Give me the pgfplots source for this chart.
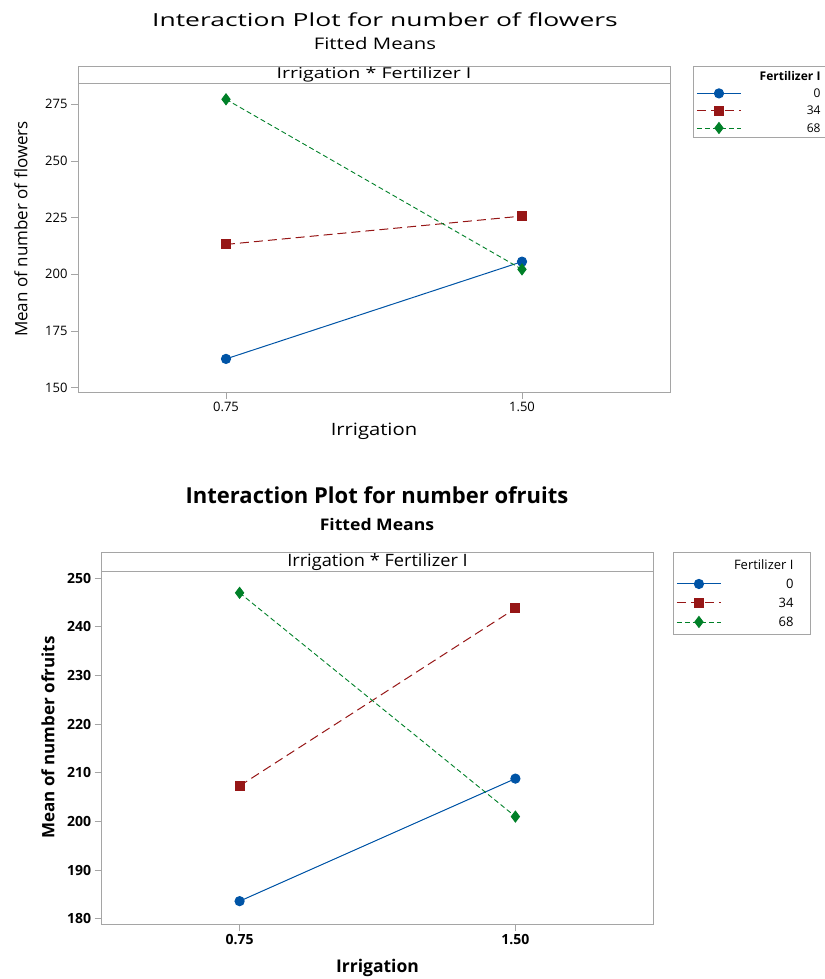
\documentclass[border=0pt]{standalone}
\usepackage{pgfplots}
\pgfplotsset{compat=1.18}
\usepackage{fontspec}
\setmainfont{Open Sans}
\definecolor{mblue}{RGB}{0,84,166}
\definecolor{mred}{RGB}{150,22,22}
\definecolor{mgreen}{RGB}{0,128,40}
\definecolor{axgray}{RGB}{165,165,165}
\newcommand{\fs}[1]{\fontsize{#1}{#1}\selectfont}
\newcommand{\legA}[1]{\makebox[84pt][l]{\makebox[77pt][r]{#1}}}
\newcommand{\legB}[1]{\makebox[82pt][l]{\makebox[70pt][r]{#1}}}
\begin{document}
\begin{tikzpicture}
\useasboundingbox (0pt,0pt) rectangle (824pt,-979pt);
\pgfplotsset{
  mybase/.style={
    scale only axis,
    xmin=0.375, xmax=1.875,
    xtick={0.75,1.5},
    xticklabels={0.75,1.50},
    axis line style={axgray, line width=0.9pt},
    tick style={axgray, line width=0.9pt},
    tick align=outside,
    major tick length=7pt,
    xtick pos=bottom, ytick pos=left,
    /pgf/number format/assume math mode=true,
    clip=false,
    legend cell align=left,
    legend image code/.code={\draw[mark repeat=2,mark phase=2] plot coordinates {(0pt,0pt) (22pt,0pt) (44pt,0pt)};},
  },
  sblue/.style={mblue, line width=1pt, mark=*, mark size=4.6pt, mark options={solid}},
  sred/.style={mred, line width=1pt, dash pattern=on 9pt off 5pt, mark=square*, mark size=4.5pt, mark options={solid}},
  sgreen/.style={mgreen, line width=0.9pt, dash pattern=on 5pt off 3pt, mark=diamond*, mark size=5.5pt, mark options={solid}},
}
% ---------------- top plot ----------------
\node[font=\fs{18}] at (385pt,-20pt) {\scalebox{1.47}[1]{Interaction Plot for number of flowers}};
\node[font=\fs{16}] at (375pt,-44pt) {\scalebox{1.27}[1]{Fitted Means}};
\begin{axis}[mybase,
  at={(78pt,-392pt)}, anchor=south west,
  width=592pt, height=326pt,
  ymin=148.1, ymax=291.9,
  ytick={150,175,200,225,250,275},
  ticklabel style={font=\fs{13}},
  xlabel={\scalebox{1.19}[1]{Irrigation}}, ylabel={Mean of number of flowers},
  xlabel style={font=\fs{17}, at={(axis description cs:0.5,-0.1196)}, anchor=center},
  ylabel style={font=\fs{17}, at={(axis description cs:-0.0963,0.5)}, anchor=center},
  legend style={at={(1.0389,1.0)}, anchor=north west, draw=axgray, line width=0.9pt,
    inner xsep=3pt, inner ysep=1pt, row sep=0pt, font=\fs{12},
    nodes={inner ysep=0pt, inner xsep=2pt, text height=12.8pt, text depth=4.5pt}},
]
\draw[axgray, line width=0.9pt] (axis cs:0.375,284.4) -- (axis cs:1.875,284.4);
\node[font=\fs{15}] at (axis cs:1.125,288.15) {\scalebox{1.31}[1]{Irrigation * Fertilizer I}};
\addlegendimage{empty legend}
\addlegendentry{\legA{\bfseries Fertilizer I}}
\addplot[sblue] coordinates {(0.75,162.7) (1.5,205.6)};
\addlegendentry{\legA{0}}
\addplot[sred] coordinates {(0.75,213.2) (1.5,225.7)};
\addlegendentry{\legA{34}}
\addplot[sgreen] coordinates {(0.75,277.2) (1.5,202.2)};
\addlegendentry{\legA{68}}
\end{axis}
% ---------------- bottom plot ----------------
\node[font=\bfseries\fs{22}] at (377pt,-495pt) {Interaction Plot for number ofruits};
\node[font=\bfseries\fs{16}] at (377pt,-524pt) {\scalebox{1.1}[1]{Fitted Means}};
\begin{axis}[mybase,
  at={(101.7pt,-924pt)}, anchor=south west,
  width=551.6pt, height=372pt,
  ymin=178.9, ymax=255.4,
  ytick={180,190,200,210,220,230,240,250},
  ticklabel style={font=\bfseries\fs{14}},
  xlabel={Irrigation}, ylabel={Mean of number ofruits},
  xlabel style={font=\bfseries\fs{17.5}, at={(axis description cs:0.5,-0.1183)}, anchor=center},
  ylabel style={font=\bfseries\fs{17}, at={(axis description cs:-0.0974,0.501)}, anchor=center},
  legend style={at={(1.0357,1.0)}, anchor=north west, draw=axgray, line width=0.9pt,
    inner xsep=3pt, inner ysep=3pt, row sep=0pt, font=\fs{13},
    nodes={inner ysep=0pt, inner xsep=2pt, text height=14.5pt, text depth=4.5pt}},
]
\draw[axgray, line width=0.9pt] (axis cs:0.375,251.4) -- (axis cs:1.875,251.4);
\node[font=\fs{17}] at (axis cs:1.125,253.4) {\scalebox{1.07}[1]{Irrigation * Fertilizer I}};
\addlegendimage{empty legend}
\addlegendentry{\legB{Fertilizer I}}
\addplot[sblue] coordinates {(0.75,183.6) (1.5,208.8)};
\addlegendentry{\legB{0}}
\addplot[sred] coordinates {(0.75,207.3) (1.5,243.8)};
\addlegendentry{\legB{34}}
\addplot[sgreen] coordinates {(0.75,247.0) (1.5,201.0)};
\addlegendentry{\legB{68}}
\end{axis}
\end{tikzpicture}
\end{document}
